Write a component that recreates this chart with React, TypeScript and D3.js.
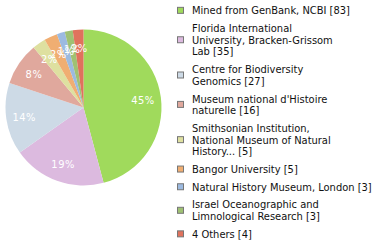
import React from "react";
import * as d3 from "d3";

const categories: string[][] = [
  ["Mined from GenBank, NCBI [83]"],
  ["Florida International", "University, Bracken-Grissom", "Lab [35]"],
  ["Centre for Biodiversity", "Genomics [27]"],
  ["Museum national d'Histoire", "naturelle [16]"],
  ["Smithsonian Institution,", "National Museum of Natural", "History... [5]"],
  ["Bangor University [5]"],
  ["Natural History Museum, London [3]"],
  ["Israel Oceanographic and", "Limnological Research [3]"],
  ["4 Others [4]"],
];
const values: number[] = [83, 35, 27, 16, 5, 5, 3, 3, 4];
const colors: string[] = [
  "#a0da5c", "#dcbadf", "#cddae6", "#e0a89d", "#dee0a0",
  "#f0ae72", "#9cbae0", "#9fc173", "#e0725d",
];

export default function App() {
  const W = 380, H = 240;
  const cx = 83.5, cy = 107.5, r = 78;
  const total = d3.sum(values);
  const pie = d3.pie<number>().sort(null).value((d) => d);
  const arcs = pie(values);
  const arc = d3.arc<d3.PieArcDatum<number>>().innerRadius(0).outerRadius(r);
  const labelArc = d3.arc<d3.PieArcDatum<number>>().innerRadius(60).outerRadius(60);

  const lineH = 11.7;
  const gap = 6;
  let y = 5;
  const legend = categories.map((lines, i) => {
    const top = y;
    const h = lines.length * lineH;
    y += h + gap;
    return { lines, top, h, i };
  });

  return (
    <svg width={W} height={H} style={{ position: "absolute", left: 0, top: 0 }}
      fontFamily="'DejaVu Sans Condensed', 'DejaVu Sans', sans-serif">
      <g transform={`translate(${cx},${cy})`}>
        {arcs.map((a, i) => (
          <path key={i} d={arc(a) || ""} fill={colors[i]} />
        ))}
        {arcs.map((a, i) => {
          const [x, yy] = labelArc.centroid(a);
          return (
            <text key={i} x={x} y={yy + 1} fill="#fff" fontSize={11}
              textAnchor="middle" dominantBaseline="central" letterSpacing={0.5}>
              {Math.floor((values[i] / total) * 100)}%
            </text>
          );
        })}
      </g>
      {legend.map((l) => (
        <g key={l.i}>
          <rect x={177.5} y={l.top + l.h / 2 - 3.5} width={6} height={6}
            fill={colors[l.i]} stroke="#777" strokeWidth={1} />
          {l.lines.map((t, j) => (
            <text key={j} x={192} y={l.top + lineH * j + lineH / 2}
              dominantBaseline="central" fontSize={11} fill="#111">
              {t}
            </text>
          ))}
        </g>
      ))}
    </svg>
  );
}
